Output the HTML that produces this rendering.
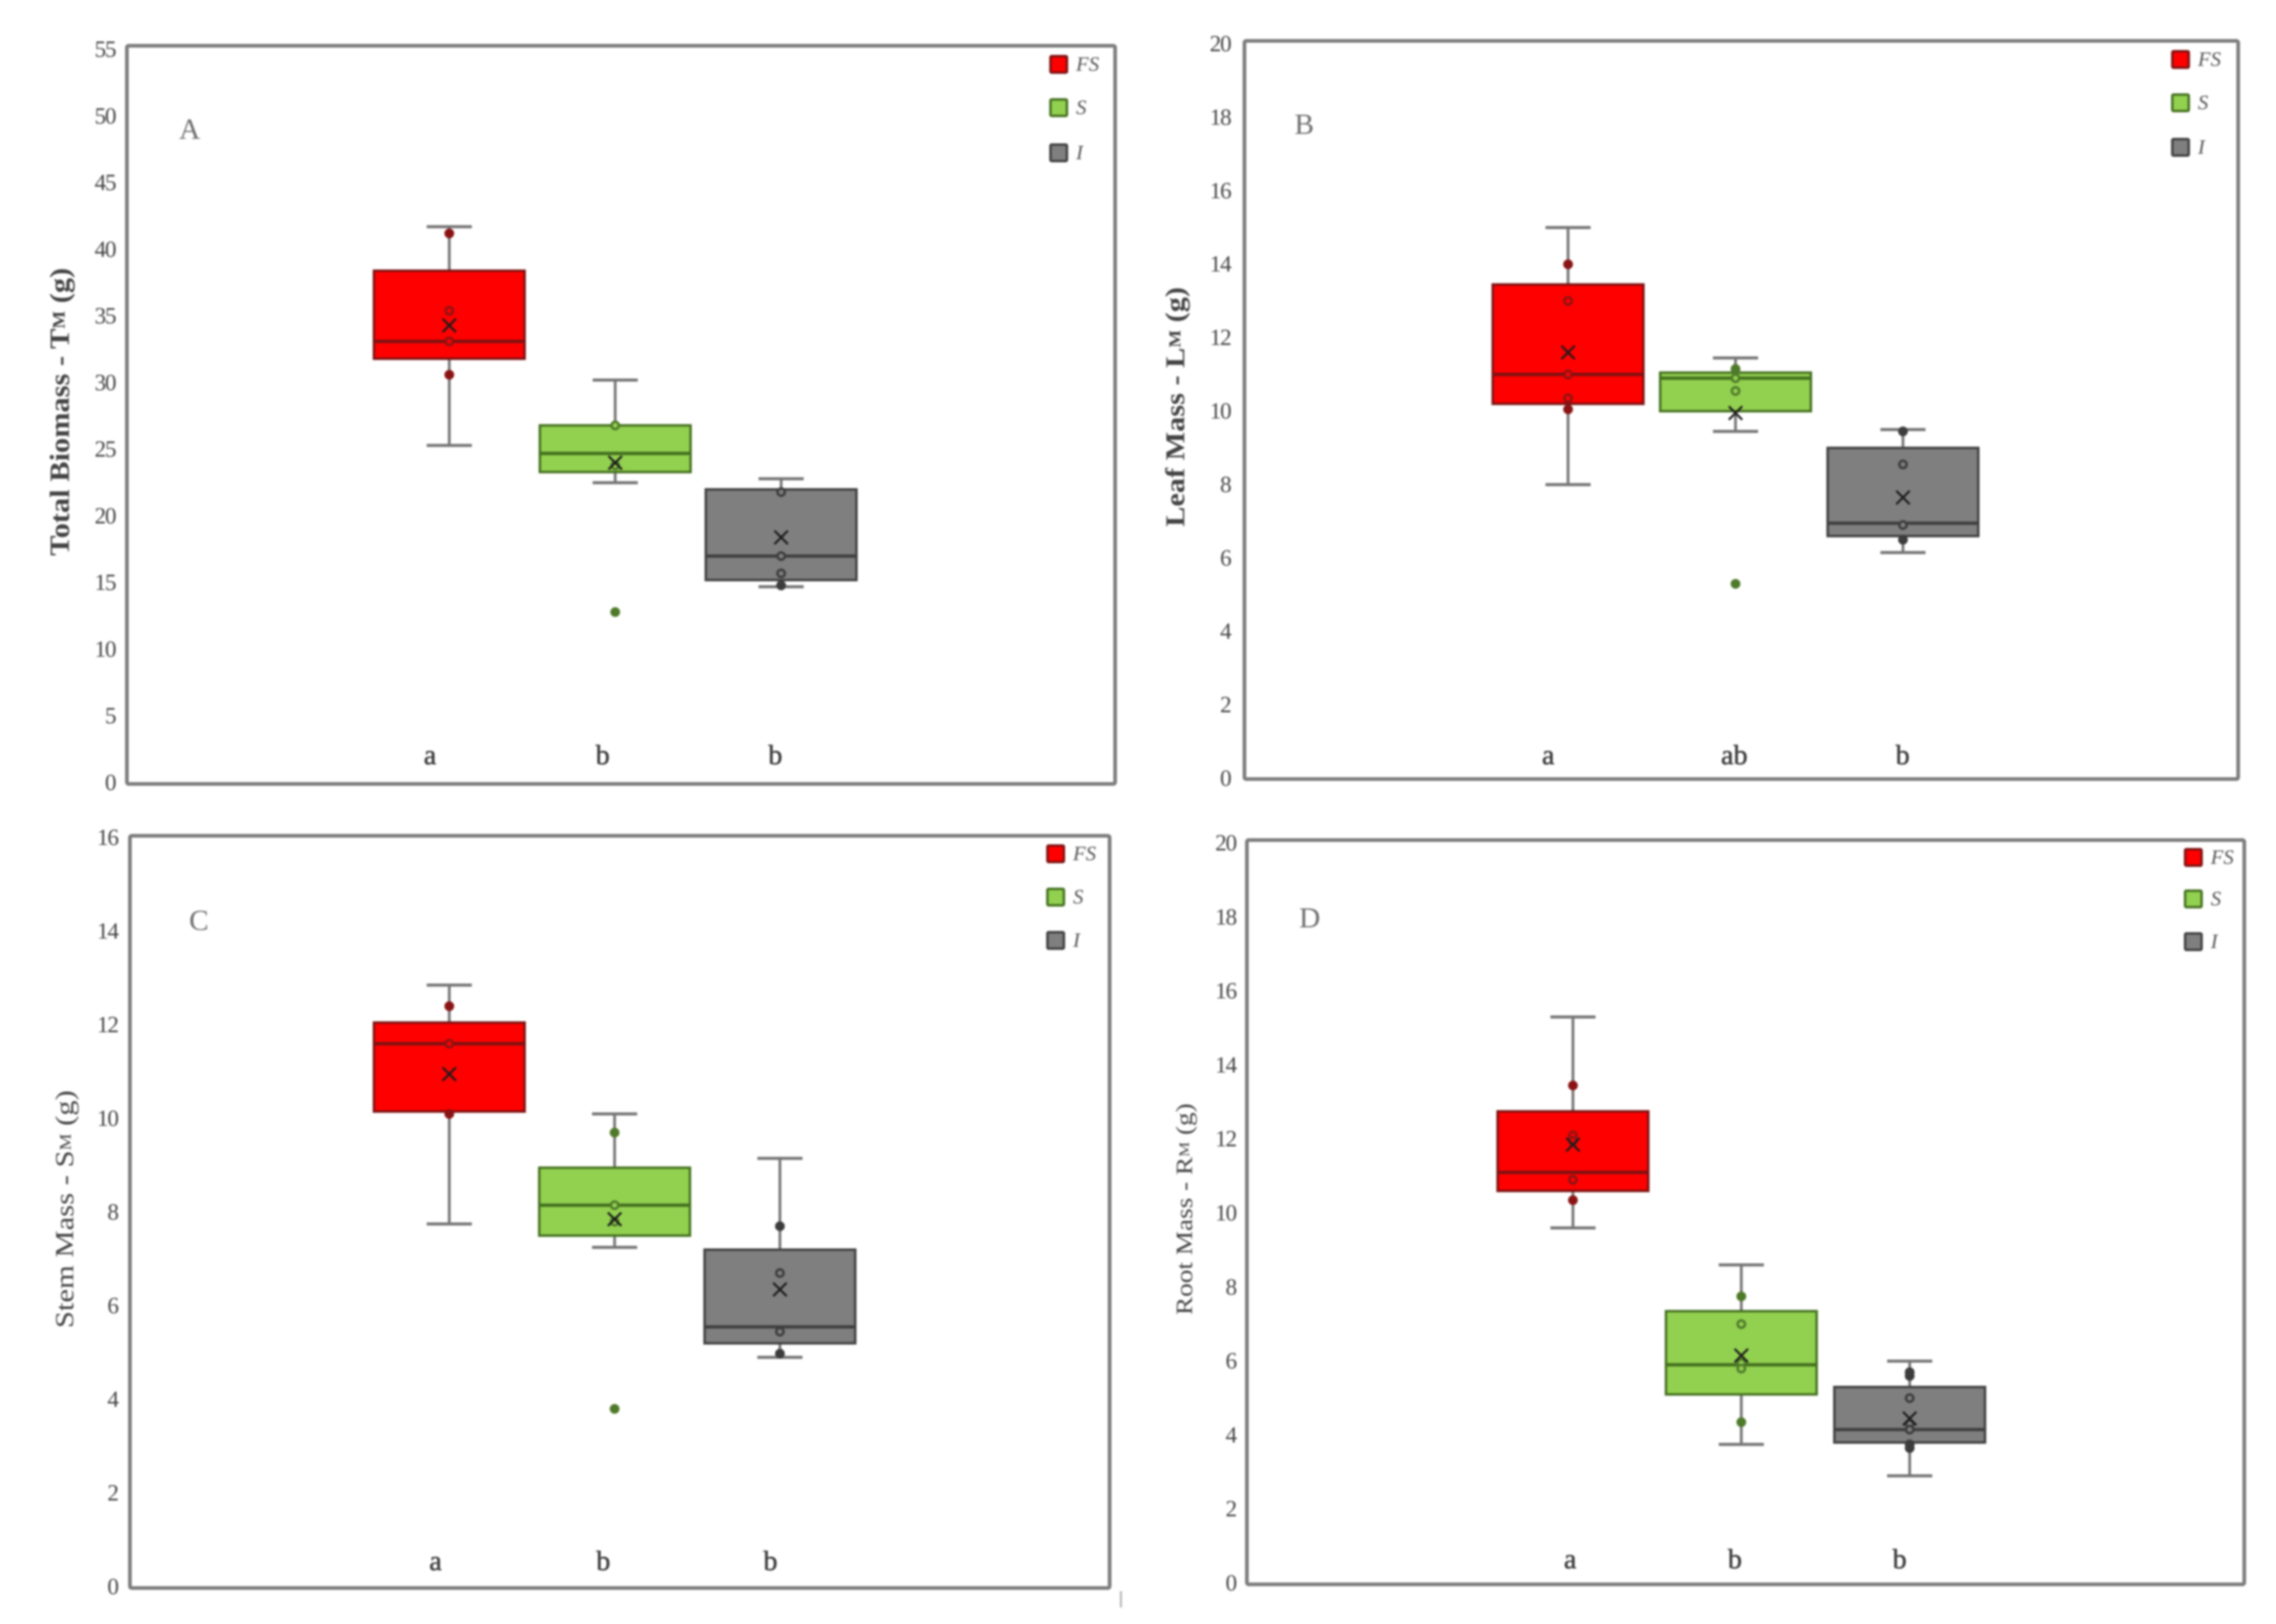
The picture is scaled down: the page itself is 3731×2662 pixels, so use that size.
<!DOCTYPE html>
<html lang="en">
<head>
<meta charset="utf-8">
<title>Biomass box plots</title>
<style>
html,body{margin:0;padding:0;background:#fff;}
body{width:3731px;height:2662px;overflow:hidden;}
svg{display:block;filter:blur(1.7px);}
text{font-family:"Liberation Serif",serif;}
</style>
</head>
<body>
<svg id="fig" xmlns="http://www.w3.org/2000/svg" width="3731" height="2662" viewBox="0 0 3731 2662"></svg>
<script>
// ---------- data ----------
const groups = ['FS', 'S', 'I'];

const ticksA = [0,5,10,15,20,25,30,35,40,45,50,55];
const lettersA = ['a','b','b'];
const lowA = [25.3,22.5,14.7];
const q1A = [31.8,23.3,15.2];
const medA = [33.1,24.7,17.0];
const q3A = [38.4,26.8,22.0];
const highA = [41.7,30.2,22.8];
const meanA = [34.3,24.0,18.4];
const pointsA = [[41.2,35.4,33.1,30.6],[26.8,23.8,12.8],[21.8,17.0,15.7,14.8]];

const ticksB = [0,2,4,6,8,10,12,14,16,18,20];
const lettersB = ['a','ab','b'];
const lowB = [8.0,9.45,6.15];
const q1B = [10.2,10.0,6.6];
const medB = [11.0,10.9,6.95];
const q3B = [13.45,11.05,9.0];
const highB = [15.0,11.45,9.5];
const meanB = [11.6,9.95,7.65];
const pointsB = [[14.0,13.0,11.0,10.35,10.05],[11.15,10.9,10.55,5.3],[9.45,8.55,6.9,6.5]];

const ticksC = [0,2,4,6,8,10,12,14,16];
const lettersC = ['a','b','b'];
const lowC = [7.75,7.25,4.9];
const q1C = [10.15,7.5,5.2];
const medC = [11.6,8.15,5.55];
const q3C = [12.05,8.95,7.2];
const highC = [12.85,10.1,9.15];
const meanC = [10.95,7.85,6.35];
const pointsC = [[12.4,11.6,10.1],[9.7,8.15,7.8,3.8],[7.7,6.7,5.45,4.98]];

const ticksD = [0,2,4,6,8,10,12,14,16,18,20];
const lettersD = ['a','b','b'];
const lowD = [9.6,3.75,2.9];
const q1D = [10.6,5.1,3.8];
const medD = [11.1,5.9,4.15];
const q3D = [12.75,7.35,5.3];
const highD = [15.3,8.6,6.0];
const meanD = [11.85,6.15,4.45];
const pointsD = [[13.45,12.1,11.95,10.9,10.35],[7.75,7.0,5.95,5.8,4.35],[5.7,5.6,5.0,4.3,4.15,3.75,3.65]];

// ---------- styling ----------
const fills = ['#ff0000','#92d050','#7f7f7f'];
const edges = ['#7d1212','#44701f','#404040'];
const dots = ['#8a1414','#4f7a2a','#3c3c3c'];

const panels = [
 {id:'a',label:'A',title:['Total Biomass - T','M',' (g)'],ticks:ticksA,letters:lettersA,low:lowA,q1:q1A,med:medA,q3:q3A,high:highA,mean:meanA,points:pointsA,
  frame:[208,75,1828,1285],yBase:1283,yTop:81,yMax:55,boxLeft:613,boxStep:272,tickRight:189,
  titleX:97,titleY:675,titleLen:472,titleSize:46,titleWeight:'bold',labelX:311,labelY:212,
  letterXs:[705,988,1271],letterY:1237,legendX:1722,legendYs:[92,163,237]},
 {id:'b',label:'B',title:['Leaf Mass - L','M',' (g)'],ticks:ticksB,letters:lettersB,low:lowB,q1:q1B,med:medB,q3:q3B,high:highB,mean:meanB,points:pointsB,
  frame:[2040,67,3669,1277],yBase:1276,yTop:72,yMax:20,boxLeft:2447,boxStep:274.5,tickRight:2017,
  titleX:1926,titleY:667,titleLen:393,titleSize:44,titleWeight:'bold',labelX:2138,labelY:204,
  letterXs:[2538,2843,3119],letterY:1237,legendX:3561,legendYs:[84,155,228]},
 {id:'c',label:'C',title:['Stem Mass - S','M',' (g)'],ticks:ticksC,letters:lettersC,low:lowC,q1:q1C,med:medC,q3:q3C,high:highC,mean:meanC,points:pointsC,
  frame:[213,1370,1819,2603],yBase:2601,yTop:1373,yMax:16,boxLeft:613,boxStep:271,tickRight:193,
  titleX:107,titleY:1982,titleLen:390,titleSize:42,titleWeight:'normal',labelX:326,labelY:1509,
  letterXs:[714,989,1263],letterY:2558,legendX:1717,legendYs:[1386,1457,1528]},
 {id:'d',label:'D',title:['Root Mass - R','M',' (g)'],ticks:ticksD,letters:lettersD,low:lowD,q1:q1D,med:medD,q3:q3D,high:highD,mean:meanD,points:pointsD,
  frame:[2044,1377,3679,2597],yBase:2595,yTop:1382,yMax:20,boxLeft:2455,boxStep:276,tickRight:2026,
  titleX:1942,titleY:1982,titleLen:347,titleSize:38,titleWeight:'normal',labelX:2147,labelY:1505,
  letterXs:[2574,2844,3114],letterY:2555,legendX:3582,legendYs:[1392,1460,1530]}
];

const BOX_W = 247;
const CAP = 37;
const SWATCH = 27;
const NS = 'http://www.w3.org/2000/svg';
const fig = document.getElementById('fig');

function mk(parent, tag, attrs, txt){
  const el = document.createElementNS(NS, tag);
  for (const k in attrs) el.setAttribute(k, attrs[k]);
  if (txt !== undefined) el.textContent = txt;
  parent.appendChild(el);
  return el;
}

panels.forEach(function(p){
  const yScale = function(v){ return p.yBase - (v / p.yMax) * (p.yBase - p.yTop); };
  const xLeft = function(i){ return p.boxLeft + i * p.boxStep; };
  const xMid = function(i){ return xLeft(i) + BOX_W / 2; };

  const g = mk(fig, 'g', {});
  
  

  const fr = mk(g, 'rect', {x:p.frame[0], y:p.frame[1], width:p.frame[2]-p.frame[0], height:p.frame[3]-p.frame[1], rx:3, fill:'#fff', stroke:'#7c7c7c', 'stroke-width':6});
  
  

  p.ticks.forEach(function(t){
    const tl = mk(g, 'text', {x:p.tickRight, y:yScale(t), 'text-anchor':'end', 'dominant-baseline':'central', 'font-size':38, 'letter-spacing':'-2', fill:'#444'}, String(t));
    
    
  });

  const title = mk(g, 'text', {transform:'translate('+p.titleX+','+p.titleY+') rotate(-90)', 'text-anchor':'middle', 'dominant-baseline':'central', 'font-size':p.titleSize, 'font-weight':p.titleWeight, fill:'#444', textLength:p.titleLen, lengthAdjust:'spacingAndGlyphs'});
  
  
  mk(title, 'tspan', {}, p.title[0]);
  mk(title, 'tspan', {'font-size':p.titleSize*0.62}, p.title[1]);
  mk(title, 'tspan', {}, p.title[2]);

  const pl = mk(g, 'text', {x:p.labelX, y:p.labelY, 'text-anchor':'middle', 'dominant-baseline':'central', 'font-size':48, fill:'#6e6e6e'}, p.label);
  
  

  groups.forEach(function(name, i){
    const bg = mk(g, 'g', {});
    
    

    const stem = mk(bg, 'line', {x1:xMid(i), x2:xMid(i), y1:yScale(p.low[i]), y2:yScale(p.high[i]), stroke:'#757575', 'stroke-width':4.5});
    
    

    [p.low[i], p.high[i]].forEach(function(v){
      const cap = mk(bg, 'line', {x1:xMid(i)-CAP, x2:xMid(i)+CAP, y1:yScale(v), y2:yScale(v), stroke:'#757575', 'stroke-width':5});
      
      
    });

    const rect = mk(bg, 'rect', {x:xLeft(i), y:yScale(p.q3[i]), width:BOX_W, height:yScale(p.q1[i])-yScale(p.q3[i]), fill:fills[i], stroke:edges[i], 'stroke-width':4});
    
    

    const med = mk(bg, 'line', {x1:xLeft(i), x2:xLeft(i)+BOX_W, y1:yScale(p.med[i]), y2:yScale(p.med[i]), stroke:edges[i], 'stroke-width':5.5});
    
    

    p.points[i].forEach(function(v){
      const outside = v > p.q3[i] || v < p.q1[i];
      const pt = mk(bg, 'circle', {cx:xMid(i), cy:yScale(v), r:6, fill: outside ? dots[i] : fills[i], stroke:dots[i], 'stroke-width':4});
      
      
    });

    const my = yScale(p.mean[i]);
    const mx = mk(bg, 'path', {d:'M'+(xMid(i)-11)+' '+(my-11)+'L'+(xMid(i)+11)+' '+(my+11)+'M'+(xMid(i)+11)+' '+(my-11)+'L'+(xMid(i)-11)+' '+(my+11), stroke:'#1c1c1c', 'stroke-width':3.5, fill:'none'});
    
    

    const sig = mk(g, 'text', {x:p.letterXs[i], y:p.letterY, 'text-anchor':'middle', 'dominant-baseline':'central', 'font-size':46, stroke:'#3a3a3a', 'stroke-width':0.8, fill:'#3a3a3a'}, p.letters[i]);
    
    

    const sw = mk(g, 'rect', {x:p.legendX, y:p.legendYs[i], width:SWATCH, height:SWATCH, rx:2, fill:fills[i], stroke:edges[i], 'stroke-width':4});
    
    

    const lt = mk(g, 'text', {x:p.legendX+SWATCH+15, y:p.legendYs[i]+SWATCH/2, 'dominant-baseline':'central', 'font-size':34, 'font-style':'italic', fill:'#555'}, name);
    
    
  });
});

const stray = mk(fig, 'rect', {x:1836, y:2608, width:3, height:27, fill:'#b0b0b0'});


</script>
</body>
</html>
